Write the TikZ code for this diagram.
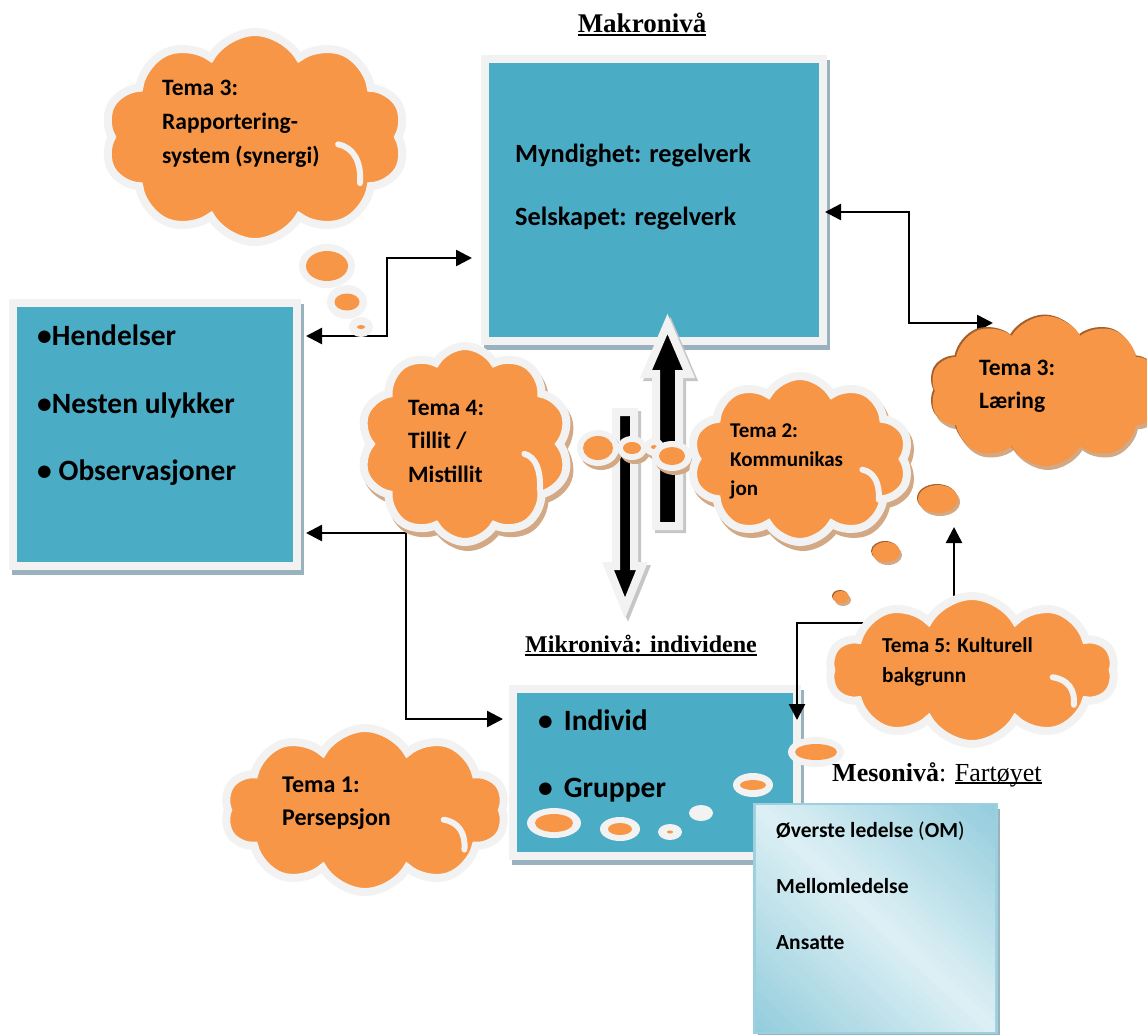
\documentclass[tikz,border=0pt]{standalone}
\usepackage{fontspec}
\setmainfont{Liberation Serif}
\newfontfamily\calib{Carlito}
\usetikzlibrary{shapes.symbols,arrows.meta,shadows}

\definecolor{boxblue}{HTML}{4BACC6}
\definecolor{rim}{HTML}{F2F2F2}
\definecolor{boxshade}{HTML}{9AB2BD}
\definecolor{puff}{HTML}{F79646}
\definecolor{puffshade}{HTML}{D3A885}
\definecolor{puffedge}{HTML}{A35F2D}
\definecolor{mesoedge}{HTML}{9CD0DE}
\definecolor{mesodeep}{HTML}{92CCDC}
\definecolor{mesopale}{HTML}{DDF0F5}
\definecolor{blockshade}{HTML}{C6C6C6}

% underlined text: #1 text, #2 rule depth, #3 rule thickness
\newcommand{\headline}[3]{\setbox0\hbox{#1}\rlap{\rule[-#2]{\wd0}{#3}}\box0}
% thought bubble: centre, rim radii, fill radii
\newcommand{\bubble}[5]{%
  \fill[rim] (#1) ellipse[x radius=#2, y radius=#3];
  \fill[puff] (#1) ellipse[x radius=#4, y radius=#5];}
\newcommand{\shadedbubble}[5]{%
  \fill[puffshade, shift={(3pt,-4pt)}] (#1) ellipse[x radius=#2, y radius=#3];
  \bubble{#1}{#2}{#3}{#4}{#5}}
\newcommand{\bevelbubble}[3]{%
  \fill[puffshade, shift={(2pt,-3pt)}] (#1) ellipse[x radius=#2, y radius=#3];
  \fill[puffedge, shift={(-1pt,1pt)}] (#1) ellipse[x radius=#2, y radius=#3];
  \fill[puff] (#1) ellipse[x radius=#2, y radius=#3];}
% inner fold line of a cloud: centre x, centre y, width, height
\newcommand{\cloudfold}[4]{%
  \draw[rim, line width=6pt, line cap=round]
    ({#1+0.277*#3},{#2+0.035*#4}) .. controls ({#1+0.33*#3},{#2+0.05*#4})
    and ({#1+0.355*#3},{#2+0.12*#4}) .. ({#1+0.35*#3},{#2+0.22*#4});}

\tikzset{
  panel/.style={rectangle, fill=boxblue, draw=rim, line width=8pt,
    inner sep=0pt, outer sep=0pt,
    general shadow={fill=boxshade, draw=boxshade, line width=8pt,
      shadow xshift=3pt, shadow yshift=-5pt}},
  mesobox/.style={rectangle, draw=mesoedge, line width=2.5pt,
    inner sep=0pt, outer sep=0pt,
    general shadow={fill=boxshade, shadow xshift=3pt, shadow yshift=-4pt}},
  cloudform/.style={cloud, cloud puffs=10, cloud puff arc=120,
    cloud ignores aspect, inner sep=0pt, outer sep=0pt},
  thought/.style={cloudform, fill=puff, draw=rim, line width=8pt},
  thoughtshaded/.style={thought,
    general shadow={fill=puffshade, draw=puffshade, line width=8pt,
      shadow xshift=3pt, shadow yshift=-5pt}},
  bevel/.style={cloudform, fill=puff,
    general shadow={fill=puffshade, shadow xshift=2pt, shadow yshift=-4pt},
    general shadow={fill=puffedge, shadow xshift=-1.5pt, shadow yshift=1.5pt}},
  block/.style={fill=black, draw=rim, line width=8pt, line join=miter,
    general shadow={fill=blockshade, draw=blockshade, line width=8pt,
      shadow xshift=3pt, shadow yshift=-3pt}},
  link/.style={line width=2.5pt},
  boxtext/.style={anchor=base west, inner sep=0pt,
    font=\calib\bfseries\fontsize{#1}{#1}\selectfont},
  % multi-line cloud text, placed by the baseline of its last line
  cloudtext/.style 2 args={anchor=base west, inner sep=0pt, align=left,
    font=\calib\bfseries\fontsize{#1}{#2}\selectfont},
  headtext/.style={inner sep=0pt, font=\fontsize{#1}{#1}\selectfont},
}

\begin{document}
\begin{tikzpicture}[x=1pt, y=-1pt, >={Triangle[length=16pt,width=16pt]}]
\useasboundingbox[fill=white] (0,0) rectangle (1147,1034);

% level headings
\node[headtext=27, anchor=base] (makrohead) at (642,32)
  {\bfseries\headline{Makronivå}{4pt}{2.5pt}};
\node[headtext=24, anchor=base west] (mikrohead) at (525,652)
  {\bfseries\headline{Mikronivå: individene}{3.5pt}{2pt}};
\node[headtext=26, anchor=base west] (mesohead) at (832,781)
  {\textbf{Mesonivå}: \headline{Fartøyet}{3pt}{1.6pt}};

% the three blue panels
\node[panel, minimum width=338pt, minimum height=282pt] (macro) at (654,200) {};
\node[panel, minimum width=284pt, minimum height=263pt] (events) at (155,434.5) {};
\node[panel, minimum width=284pt, minimum height=167pt] (micro) at (655,772.5) {};

% free ends of the connectors
\coordinate (learnIn) at (993,323);
\coordinate (cultLeft) at (880,623);
\coordinate (cultTop) at (954,610);
\coordinate (cultUp) at (954,527);

% connectors
\draw[link, <->, shorten <=9pt, shorten >=13pt]
  (events.east |- 0,336) -| (387,258) -- (macro.west |- 0,258);
\draw[link, <->, shorten <=2pt]
  (macro.east |- 0,212) -| (909,323) -- (learnIn);
\draw[link, <->, shorten <=9pt, shorten >=10pt]
  (events.east |- 0,533) -| (406,719) -- (micro.west |- 0,719);
\draw[link, ->] (cultLeft) -| (micro.east |- 0,720);
\draw[link, ->] (cultTop) -- (cultUp);

% block arrows between the macro and micro levels
\draw[block] (656,526) -- (656,374) -- (646,374) -- (667.5,324)
  -- (689,374) -- (679,374) -- (679,526) -- cycle;
\draw[block] (616,412) -- (634,412) -- (634,566) -- (642,566)
  -- (625,608) -- (608,566) -- (616,566) -- cycle;

% meso level box with a diagonal pale band
\node[mesobox, minimum width=242pt, minimum height=228pt] (meso) at (875.5,918.5) {};
\begin{scope}
  \clip ([shift={(1.3pt,-1.3pt)}]meso.north west)
    rectangle ([shift={(-1.3pt,1.3pt)}]meso.south east);
  \foreach \d in {-1.00,-0.96,...,1.00} {
    \pgfmathtruncatemacro\mix{100*(1-abs(\d+0.02))}
    \fill[mesopale!\mix!mesodeep]
      ({754+\d*243},804) -- ({754+(\d+0.045)*243},804)
      -- ({754+(\d+1.045)*243},1033) -- ({754+(\d+1)*243},1033) -- cycle;
  }
\end{scope}

% bubbles on the micro panel
\bubble{554,823}{27}{15}{19}{9}
\bubble{620,829}{20}{12}{12}{6}
\bubble{670,832}{12}{8}{3}{1.5}
\fill[rim] (701,813) ellipse[x radius=12, y radius=8];
\bubble{753,785}{20}{12}{13}{5}
\bubble{816,752}{28}{15}{21}{8}

% Tema 3 (reporting) cloud and its trail
\node[thought, minimum width=302pt, minimum height=210pt] (rapport) at (255,137) {};
\cloudfold{255}{137}{300}{210}
\bubble{327,266}{28}{22}{21}{15}
\bubble{347,302}{20}{17}{12.5}{8.5}
\bubble{361,327}{12}{10}{4}{2}

% Tema 4 cloud
\node[thoughtshaded, minimum width=210pt, minimum height=196pt] (tillit) at (465,444) {};
\cloudfold{465}{447}{214}{195}
\shadedbubble{598,448}{21}{18}{15}{12}
\shadedbubble{632,448}{15}{12}{9}{6}
\shadedbubble{654,447}{10}{9}{3}{2}
\shadedbubble{672,456}{20}{15}{13}{9}

% Tema 2 cloud
\node[thoughtshaded, minimum width=220pt, minimum height=166pt] (komm) at (800,459) {};
\cloudfold{800}{464}{225}{162}

% Tema 3 (learning) cloud and its trail
\node[bevel, minimum width=232pt, minimum height=150pt] (laering) at (1046,391) {};
\bevelbubble{938,499}{20}{14}
\bevelbubble{886,552}{14}{10}
\bevelbubble{841,597}{8}{6}

% Tema 5 and Tema 1 clouds
\node[thought, minimum width=286pt, minimum height=148pt] (kultur) at (972,670) {};
\cloudfold{972}{672}{291}{149}
\node[thought, minimum width=282pt, minimum height=164pt] (persep) at (365,810) {};
\cloudfold{365}{814}{284}{162}

% panel texts
\node[boxtext=26.3] (myn) at (515,162) {Myndighet: regelverk};
\node[boxtext=26.3] (sel) at (515,225) {Selskapet: regelverk};
\node[boxtext=29.5] (hend) at (37,345) {•Hendelser};
\node[boxtext=29.5] (nest) at (37,413) {•Nesten ulykker};
\node[boxtext=29.5] (obs) at (37,480) {• Observasjoner};
\node[boxtext=29.5] (indiv) at (538,730) {•\hspace{11pt}Individ};
\node[boxtext=29.5] (grupp) at (538,797) {•\hspace{11pt}Grupper};
\node[boxtext=21.5] (om) at (776,837) {Øverste ledelse {\mdseries(}OM{\mdseries)}};
\node[boxtext=21.5] (mell) at (776,893) {Mellomledelse};
\node[boxtext=21.5] (ans) at (776,949) {Ansatte};

% cloud texts
\node[cloudtext={23.5}{34}] (rapporttxt) at (162,163) {Tema 3:\\Rapportering-\\system (synergi)};
\node[cloudtext={23.5}{33.5}] (tillittxt) at (408,482) {Tema 4:\\Tillit /\\Mistillit};
\node[cloudtext={21}{29}] (kommtxt) at (730,495) {Tema 2:\\Kommunikas\\jon};
\node[cloudtext={23.5}{33}] (laeringtxt) at (979,408) {Tema 3:\\Læring};
\node[cloudtext={21.3}{30}] (kulturtxt) at (882,682) {Tema 5: Kulturell\\bakgrunn};
\node[cloudtext={24}{33}] (perseptxt) at (282,825) {Tema 1:\\Persepsjon};
\end{tikzpicture}
\end{document}
